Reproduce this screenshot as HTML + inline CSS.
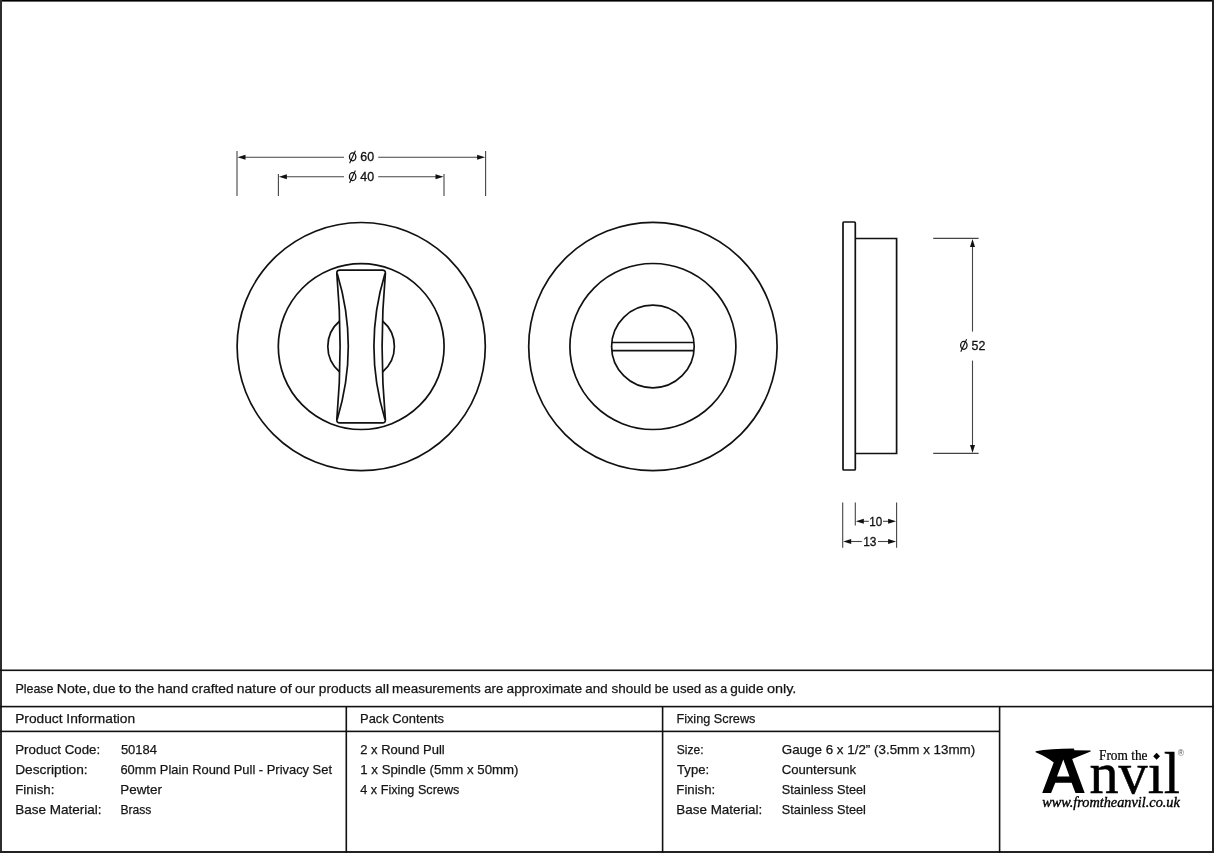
<!DOCTYPE html>
<html><head><meta charset="utf-8">
<style>
html,body{margin:0;padding:0;background:#fff;}
body{width:1214px;height:853px;overflow:hidden;position:relative;}
svg{position:absolute;left:0;top:0;display:block;filter:grayscale(1);}
.t{font-family:"Liberation Sans",sans-serif;font-size:13.5px;fill:#151515;stroke:#151515;stroke-width:0.25px;}
.d{font-family:"Liberation Sans",sans-serif;font-size:12.4px;fill:#111;stroke:#111;stroke-width:0.3px;}
</style></head><body>
<svg width="1214" height="853" viewBox="0 0 1214 853">
<rect x="0" y="0" width="1214" height="853" fill="#fff"/>
<!-- outer border -->
<rect x="0" y="0" width="1214" height="1.6" fill="#000"/>
<rect x="0" y="0" width="2" height="853" fill="#2e2e2e"/>
<rect x="1212" y="0" width="2" height="853" fill="#222"/>
<rect x="0" y="851" width="1214" height="2" fill="#222"/>

<!-- table lines -->
<g fill="#111">
<rect x="0" y="669.5" width="1214" height="1.6"/>
<rect x="0" y="705.8" width="1214" height="1.6"/>
<rect x="0" y="730.6" width="1000" height="1.6"/>
<rect x="345.5" y="706" width="1.6" height="147"/>
<rect x="661.8" y="706" width="1.6" height="147"/>
<rect x="998.8" y="706" width="1.6" height="147"/>
</g>

<!-- dimension lines (grey) -->
<g stroke="#444" stroke-width="1.1" fill="none">
<!-- Ø60 -->
<line x1="237" y1="151" x2="237" y2="196"/>
<line x1="485.6" y1="151" x2="485.6" y2="196"/>
<line x1="244" y1="157.2" x2="344" y2="157.2"/>
<line x1="378.2" y1="157.2" x2="478" y2="157.2"/>
<!-- Ø40 -->
<line x1="278.4" y1="174" x2="278.4" y2="196"/>
<line x1="444" y1="174" x2="444" y2="196"/>
<line x1="285" y1="176.7" x2="344" y2="176.7"/>
<line x1="378.2" y1="176.7" x2="437" y2="176.7"/>
<!-- Ø52 -->
<line x1="933.2" y1="238.4" x2="978.6" y2="238.4"/>
<line x1="933.2" y1="453.4" x2="978.6" y2="453.4"/>
<line x1="972.5" y1="245" x2="972.5" y2="331.6"/>
<line x1="972.5" y1="360.6" x2="972.5" y2="447"/>
<!-- 10 / 13 -->
<line x1="842.7" y1="502.4" x2="842.7" y2="547.7"/>
<line x1="855.3" y1="502.4" x2="855.3" y2="525.4"/>
<line x1="896.6" y1="502.4" x2="896.6" y2="547.7"/>
<line x1="862" y1="521.3" x2="868.8" y2="521.3"/>
<line x1="883" y1="521.3" x2="890" y2="521.3"/>
<line x1="849" y1="541.5" x2="861.8" y2="541.5"/>
<line x1="878" y1="541.5" x2="890" y2="541.5"/>
</g>
<g fill="#111">
<!-- arrowheads -->
<path d="M237.5 157.2 L245.5 154.7 L245.5 159.7 Z"/>
<path d="M485.1 157.2 L477.1 154.7 L477.1 159.7 Z"/>
<path d="M278.9 176.7 L286.9 174.2 L286.9 179.2 Z"/>
<path d="M443.5 176.7 L435.5 174.2 L435.5 179.2 Z"/>
<path d="M972.5 238.9 L970 246.9 L975 246.9 Z"/>
<path d="M972.5 452.9 L970 444.9 L975 444.9 Z"/>
<path d="M855.8 521.3 L863.8 518.8 L863.8 523.8 Z"/>
<path d="M896.1 521.3 L888.1 518.8 L888.1 523.8 Z"/>
<path d="M843.2 541.5 L851.2 539 L851.2 544 Z"/>
<path d="M896.1 541.5 L888.1 539 L888.1 544 Z"/>
</g>
<g class="d">
<text x="360.3" y="161.1">60</text><ellipse cx="352.65" cy="156.85" rx="3.2" ry="3.95" fill="none" stroke="#111" stroke-width="1.3"/><line x1="349.60" y1="163.20" x2="355.40" y2="150.80" stroke="#111" stroke-width="1.1"/>
<text x="360.3" y="180.9">40</text><ellipse cx="352.65" cy="176.65" rx="3.2" ry="3.95" fill="none" stroke="#111" stroke-width="1.3"/><line x1="349.60" y1="183.00" x2="355.40" y2="170.60" stroke="#111" stroke-width="1.1"/>
<text x="971.5" y="349.6">52</text><ellipse cx="963.85" cy="345.35" rx="3.2" ry="3.95" fill="none" stroke="#111" stroke-width="1.3"/><line x1="960.80" y1="351.70" x2="966.60" y2="339.30" stroke="#111" stroke-width="1.1"/>
<text x="869.3" y="525.8" textLength="13" lengthAdjust="spacingAndGlyphs">10</text>
<text x="863.2" y="546" textLength="13.3" lengthAdjust="spacingAndGlyphs">13</text>
</g>

<!-- drawing strokes -->
<g stroke="#111" stroke-width="1.7" fill="none">
<!-- left view -->
<circle cx="361.2" cy="346.6" r="124.1"/>
<circle cx="361.2" cy="346.6" r="82.9"/>
<path d="M339.7 321 A33.3 33.3 0 0 0 339.7 372"/>
<path d="M382.5 321 A33.3 33.3 0 0 1 382.5 372"/>
<!-- knob -->
<path d="M339.8 270.1 L382.4 270.1 Q385.5 270.1 385.4 273.1 Q378.8 346.5 385.4 419.9 Q385.5 422.9 382.4 422.9 L339.8 422.9 Q336.7 422.9 336.8 419.9 Q343.4 346.5 336.8 273.1 Q336.7 270.1 339.8 270.1 Z"/>
<path d="M337.2 273.6 Q359.4 346.5 337.2 419.4"/>
<path d="M385 273.6 Q362.8 346.5 385 419.4"/>
<!-- right view -->
<circle cx="652.9" cy="346.5" r="124.2"/>
<circle cx="652.9" cy="346.5" r="83"/>
<circle cx="652.9" cy="346.5" r="41.3"/>
<line x1="611.7" y1="342.5" x2="694.1" y2="342.5"/>
<line x1="611.7" y1="350.7" x2="694.1" y2="350.7"/>
<!-- side view -->
<rect x="843" y="222" width="12.3" height="248" rx="1"/>
<path d="M855.3 238.5 L896.6 238.5 L896.6 453.5 L855.3 453.5"/>
</g>

<!-- table text -->
<g class="t">
<text x="15.38" y="693.0" textLength="38.18" lengthAdjust="spacingAndGlyphs">Please</text>
<text x="56.75" y="693.0" textLength="33.62" lengthAdjust="spacingAndGlyphs">Note,</text>
<text x="92.73" y="693.0" textLength="22.78" lengthAdjust="spacingAndGlyphs">due</text>
<text x="118.77" y="693.0" textLength="12.88" lengthAdjust="spacingAndGlyphs">to</text>
<text x="135.09" y="693.0" textLength="19.01" lengthAdjust="spacingAndGlyphs">the</text>
<text x="157.55" y="693.0" textLength="30.54" lengthAdjust="spacingAndGlyphs">hand</text>
<text x="191.51" y="693.0" textLength="42.18" lengthAdjust="spacingAndGlyphs">crafted</text>
<text x="236.77" y="693.0" textLength="39.55" lengthAdjust="spacingAndGlyphs">nature</text>
<text x="279.80" y="693.0" textLength="11.98" lengthAdjust="spacingAndGlyphs">of</text>
<text x="295.12" y="693.0" textLength="19.91" lengthAdjust="spacingAndGlyphs">our</text>
<text x="318.82" y="693.0" textLength="52.48" lengthAdjust="spacingAndGlyphs">products</text>
<text x="374.90" y="693.0" textLength="14.15" lengthAdjust="spacingAndGlyphs">all</text>
<text x="392.11" y="693.0" textLength="88.67" lengthAdjust="spacingAndGlyphs">measurements</text>
<text x="484.24" y="693.0" textLength="18.94" lengthAdjust="spacingAndGlyphs">are</text>
<text x="506.52" y="693.0" textLength="75.70" lengthAdjust="spacingAndGlyphs">approximate</text>
<text x="585.33" y="693.0" textLength="22.22" lengthAdjust="spacingAndGlyphs">and</text>
<text x="611.42" y="693.0" textLength="39.85" lengthAdjust="spacingAndGlyphs">should</text>
<text x="654.80" y="693.0" textLength="13.75" lengthAdjust="spacingAndGlyphs">be</text>
<text x="672.54" y="693.0" textLength="28.71" lengthAdjust="spacingAndGlyphs">used</text>
<text x="704.49" y="693.0" textLength="12.64" lengthAdjust="spacingAndGlyphs">as</text>
<text x="720.27" y="693.0" textLength="6.93" lengthAdjust="spacingAndGlyphs">a</text>
<text x="730.23" y="693.0" textLength="33.28" lengthAdjust="spacingAndGlyphs">guide</text>
<text x="766.91" y="693.0" textLength="29.46" lengthAdjust="spacingAndGlyphs">only.</text>
<text x="15.17" y="722.8" textLength="119.92" lengthAdjust="spacingAndGlyphs">Product Information</text>
<text x="360.04" y="722.8" textLength="83.92" lengthAdjust="spacingAndGlyphs">Pack Contents</text>
<text x="676.46" y="722.8" textLength="79.00" lengthAdjust="spacingAndGlyphs">Fixing Screws</text>
<text x="15.21" y="753.8" textLength="85.00" lengthAdjust="spacingAndGlyphs">Product Code:</text>
<text x="15.17" y="774.2" textLength="72.48" lengthAdjust="spacingAndGlyphs">Description:</text>
<text x="15.21" y="794.4" textLength="39.21" lengthAdjust="spacingAndGlyphs">Finish:</text>
<text x="15.19" y="814.4" textLength="86.34" lengthAdjust="spacingAndGlyphs">Base Material:</text>
<text x="120.88" y="753.8" textLength="36.10" lengthAdjust="spacingAndGlyphs">50184</text>
<text x="120.44" y="774.2" textLength="211.55" lengthAdjust="spacingAndGlyphs">60mm Plain Round Pull - Privacy Set</text>
<text x="120.30" y="794.4" textLength="41.72" lengthAdjust="spacingAndGlyphs">Pewter</text>
<text x="120.40" y="814.4" textLength="31.03" lengthAdjust="spacingAndGlyphs">Brass</text>
<text x="360.25" y="753.8" textLength="84.52" lengthAdjust="spacingAndGlyphs">2 x Round Pull</text>
<text x="360.29" y="774.2" textLength="158.23" lengthAdjust="spacingAndGlyphs">1 x Spindle (5mm x 50mm)</text>
<text x="360.31" y="794.4" textLength="99.05" lengthAdjust="spacingAndGlyphs">4 x Fixing Screws</text>
<text x="676.85" y="753.8" textLength="26.74" lengthAdjust="spacingAndGlyphs">Size:</text>
<text x="677.11" y="774.2" textLength="31.95" lengthAdjust="spacingAndGlyphs">Type:</text>
<text x="676.32" y="794.4" textLength="38.89" lengthAdjust="spacingAndGlyphs">Finish:</text>
<text x="676.30" y="814.4" textLength="85.93" lengthAdjust="spacingAndGlyphs">Base Material:</text>
<text x="781.73" y="753.8" textLength="193.50" lengthAdjust="spacingAndGlyphs">Gauge 6 x 1/2” (3.5mm x 13mm)</text>
<text x="781.73" y="774.2" textLength="74.45" lengthAdjust="spacingAndGlyphs">Countersunk</text>
<text x="781.82" y="794.4" textLength="84.13" lengthAdjust="spacingAndGlyphs">Stainless Steel</text>
<text x="781.82" y="814.4" textLength="84.13" lengthAdjust="spacingAndGlyphs">Stainless Steel</text>

</g>

<!-- logo -->
<g fill="#000">
<path d="M1035.6 751.2 Q1050 748.4 1073.8 748.4 L1074.5 750.2 L1090.6 750.4 L1090.6 751.6 L1072.2 759.1 L1084.7 793 L1075.5 793 L1071.6 782.7 L1055.3 782.7 L1051.1 793 L1042.2 793 L1053.7 762.4 Q1046.5 756.8 1035.6 752.2 Z M1063.3 759.6 L1057 776.5 L1069.5 776.5 Z" fill-rule="evenodd"/>
<text x="1099" y="759.5" font-family="Liberation Serif" font-size="13.6" textLength="48.5" lengthAdjust="spacingAndGlyphs" stroke="#000" stroke-width="0.2">From the</text>
<path d="M1156.6 752.8 L1160 756.3 L1156.6 759.8 L1153.2 756.3 Z"/>
<text x="1089.5" y="793" font-family="Liberation Serif" font-size="59" textLength="90.5" lengthAdjust="spacingAndGlyphs" stroke="#000" stroke-width="0.5">nvıl</text>
<text x="1042.3" y="807.3" font-family="Liberation Serif" font-style="italic" font-size="13.6" textLength="137.5" lengthAdjust="spacingAndGlyphs" stroke="#000" stroke-width="0.35">www.fromtheanvil.co.uk</text>
<text x="1180.8" y="755.6" font-family="Liberation Sans" font-size="8.5" text-anchor="middle" fill="#555">®</text>
</g>
</svg>
</body></html>
